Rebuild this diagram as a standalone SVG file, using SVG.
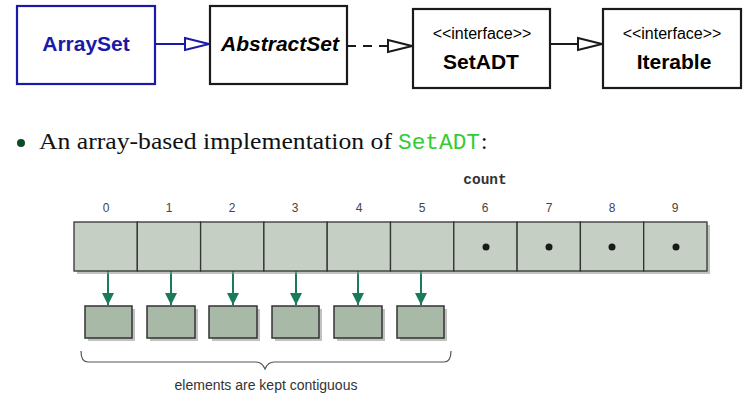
<svg xmlns="http://www.w3.org/2000/svg" width="744" height="413" viewBox="0 0 744 413">
<style>
.box{fill:#fff;stroke:#1a1a1a;stroke-width:2.2}
.bx{font-family:"Liberation Sans",Arial,sans-serif;font-weight:bold;font-size:21px;text-anchor:middle}
.st{font-family:"Liberation Sans",Arial,sans-serif;font-size:16px;text-anchor:middle}
.idx{font-family:"Liberation Sans",Arial,sans-serif;font-size:12px;fill:#444;text-anchor:middle}
.cell{fill:#c5cfc4;stroke:#333;stroke-width:1.3}
.el{fill:#a9b9a8;stroke:#333;stroke-width:1.5}
.sh{fill:#999;opacity:0.6}
.dot{fill:#1a1a1a}
.ga{stroke:#1b7a58;stroke-width:2;fill:none}
</style>
<defs>
<marker id="triB" markerWidth="28" markerHeight="16" refX="25" refY="8" orient="auto" markerUnits="userSpaceOnUse">
<path d="M1,2 L25,8 L1,14 Z" fill="#fff" stroke="#1a1aaa" stroke-width="2"/>
</marker>
<marker id="triK" markerWidth="28" markerHeight="16" refX="25" refY="8" orient="auto" markerUnits="userSpaceOnUse">
<path d="M1,2 L25,8 L1,14 Z" fill="#fff" stroke="#1a1a1a" stroke-width="2"/>
</marker>
<marker id="gArr" markerWidth="14" markerHeight="14" refX="7" refY="13" orient="0" markerUnits="userSpaceOnUse">
<path d="M1,1 L13,1 L7,13 Z" fill="#1b7a58"/>
</marker>
</defs>

<g id="ArraySet">
<rect x="17" y="6" width="138" height="78" fill="#fff" stroke="#1a1aaa" stroke-width="2.2"/>
<text class="bx" x="86" y="51" fill="#1a1aaa">ArraySet</text>
</g>
<g id="AbstractSet">
<rect class="box" x="210" y="6" width="137" height="78"/>
<text class="bx" x="280" y="51" font-style="italic" font-size="22">AbstractSet</text>
</g>
<g id="SetADT">
<rect class="box" x="413" y="9" width="137" height="79"/>
<text class="st" x="482" y="39">&lt;&lt;interface&gt;&gt;</text>
<text class="bx" x="481" y="69">SetADT</text>
</g>
<g id="Iterable">
<rect class="box" x="603" y="9" width="138" height="79"/>
<text class="st" x="672" y="39">&lt;&lt;interface&gt;&gt;</text>
<text class="bx" x="674" y="69">Iterable</text>
</g>

<g id="connectors">
<line x1="155" y1="44" x2="209" y2="44" stroke="#1a1aaa" stroke-width="2.2" marker-end="url(#triB)"/>
<line x1="347" y1="46" x2="412" y2="46" stroke="#1a1a1a" stroke-width="2.2" stroke-dasharray="9,7" marker-end="url(#triK)"/>
<line x1="550" y1="44" x2="602" y2="44" stroke="#1a1a1a" stroke-width="2.2" marker-end="url(#triK)"/>
<line class="ga" x1="108" y1="271" x2="108" y2="305" marker-end="url(#gArr)"/>
<line class="ga" x1="171" y1="271" x2="171" y2="305" marker-end="url(#gArr)"/>
<line class="ga" x1="233" y1="271" x2="233" y2="305" marker-end="url(#gArr)"/>
<line class="ga" x1="296" y1="271" x2="296" y2="305" marker-end="url(#gArr)"/>
<line class="ga" x1="358" y1="271" x2="358" y2="305" marker-end="url(#gArr)"/>
<line class="ga" x1="421" y1="271" x2="421" y2="305" marker-end="url(#gArr)"/>
</g>

<g id="bullet">
<circle cx="21" cy="143" r="4" fill="#0d4a25"/>
<text x="39" y="149" font-family="'Liberation Serif','DejaVu Serif',serif" font-size="23" fill="#111" textLength="353" lengthAdjust="spacingAndGlyphs">An array-based implementation of</text>
<text x="398" y="149" font-family="'Liberation Mono','DejaVu Sans Mono',monospace" fill="#33cc33" font-size="22" textLength="82" lengthAdjust="spacingAndGlyphs">SetADT</text>
<text x="481" y="149" font-family="'Liberation Serif','DejaVu Serif',serif" font-size="23" fill="#111">:</text>
</g>

<g id="array">
<rect class="sh" x="77" y="225" width="633" height="49"/>
<rect class="cell" x="74" y="222" width="63.3" height="49"/>
<rect class="cell" x="137.3" y="222" width="63.3" height="49"/>
<rect class="cell" x="200.6" y="222" width="63.3" height="49"/>
<rect class="cell" x="263.9" y="222" width="63.3" height="49"/>
<rect class="cell" x="327.2" y="222" width="63.3" height="49"/>
<rect class="cell" x="390.5" y="222" width="63.3" height="49"/>
<rect class="cell" x="453.8" y="222" width="63.3" height="49"/>
<rect class="cell" x="517.1" y="222" width="63.3" height="49"/>
<rect class="cell" x="580.4" y="222" width="63.3" height="49"/>
<rect class="cell" x="643.7" y="222" width="63.3" height="49"/>
<circle class="dot" cx="486" cy="247" r="3.5"/>
<circle class="dot" cx="549" cy="247" r="3.5"/>
<circle class="dot" cx="612" cy="247" r="3.5"/>
<circle class="dot" cx="676" cy="247" r="3.5"/>
<text class="idx" x="106" y="212">0</text>
<text class="idx" x="169" y="212">1</text>
<text class="idx" x="232" y="212">2</text>
<text class="idx" x="295" y="212">3</text>
<text class="idx" x="359" y="212">4</text>
<text class="idx" x="422" y="212">5</text>
<text class="idx" x="485" y="212">6</text>
<text class="idx" x="549" y="212">7</text>
<text class="idx" x="612" y="212">8</text>
<text class="idx" x="675" y="212">9</text>
<text x="485" y="184" font-family="'Liberation Mono','DejaVu Sans Mono',monospace" font-weight="bold" font-size="14.5" fill="#333" text-anchor="middle">count</text>
</g>

<g id="elements">
<rect class="sh" x="88" y="309" width="47" height="32"/>
<rect class="sh" x="150" y="309" width="48" height="32"/>
<rect class="sh" x="212" y="309" width="48" height="32"/>
<rect class="sh" x="275" y="309" width="47" height="32"/>
<rect class="sh" x="337" y="309" width="48" height="32"/>
<rect class="sh" x="400" y="309" width="47" height="32"/>
<rect class="el" x="85" y="306" width="47" height="32"/>
<rect class="el" x="147" y="306" width="48" height="32"/>
<rect class="el" x="209" y="306" width="48" height="32"/>
<rect class="el" x="272" y="306" width="47" height="32"/>
<rect class="el" x="334" y="306" width="48" height="32"/>
<rect class="el" x="397" y="306" width="47" height="32"/>
</g>

<g id="brace">
<path d="M81,351 Q81,362 88,362 L256,362 Q262,362 265,369 Q268,362 274,362 L444,362 Q451,362 451,351" fill="none" stroke="#555" stroke-width="1.2"/>
<text x="266" y="390" font-family="'Liberation Sans',Arial,sans-serif" font-size="14" fill="#333" text-anchor="middle">elements are kept contiguous</text>
</g>
</svg>
